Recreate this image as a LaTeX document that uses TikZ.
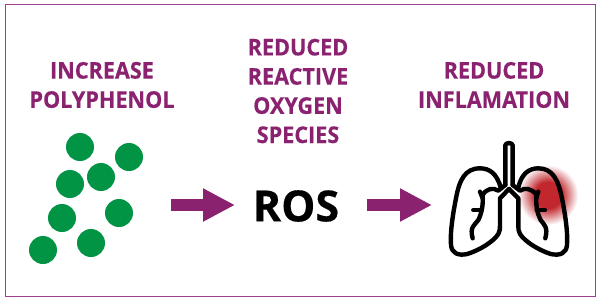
\documentclass[tikz,border=0pt]{standalone}
\usepackage{fontspec}
\setmainfont[BoldFeatures={FakeBold=0.35}]{Open Sans}
\newfontfamily\headfont[FakeStretch=0.94,BoldFeatures={FakeBold=0.35}]{Open Sans}
\usetikzlibrary{arrows.meta}
\definecolor{plum}{HTML}{8A2270}
\definecolor{framecol}{HTML}{9C3F8E}
\definecolor{leaf}{HTML}{009444}
\definecolor{flare}{HTML}{C1272D}
\pgfdeclareradialshading{flareglow}{\pgfpoint{0bp}{0bp}}{%
  color(0bp)=(flare); color(11bp)=(flare); color(25bp)=(white); color(50bp)=(white)}
\tikzset{
  heading/.style={text=plum,font=\headfont\bfseries\fontsize{23}{29.2}\selectfont,align=center,inner sep=0pt},
  dot/.style={circle,fill=leaf,minimum size=28pt,inner sep=0pt},
  flow/.style={draw=plum,line width=12.5pt,-{Triangle[length=32pt,width=31pt]},shorten >=0pt},
  lung/.style={draw=black,line width=4.4pt,line cap=round,line join=round}
}
\begin{document}
\begin{tikzpicture}[x=1pt,y=-1pt]
\useasboundingbox (0,0) rectangle (600,300);
\draw[framecol,line width=1pt] (5,4) rectangle (595,296);

% headings
\node[heading] (inc) at (102,85) {INCREASE\\POLYPHENOL};
\node[heading] (red) at (298,91) {REDUCED\\REACTIVE\\OXYGEN\\SPECIES};
\node[heading] (inf) at (494,85) {REDUCED\\INFLAMATION};
\node[inner sep=0pt,font=\bfseries\fontsize{43}{43}\selectfont] (ros) at (296,206) {ROS};

% polyphenol dots
\node[dot] (d1) at (80,147) {};
\node[dot] (d2) at (129,157) {};
\node[dot] (d3) at (70,184) {};
\node[dot] (d4) at (101,177) {};
\node[dot] (d5) at (62,218) {};
\node[dot] (d6) at (119,213) {};
\node[dot] (d7) at (91,243) {};
\node[dot] (d8) at (43,250) {};

% flow arrows
\coordinate (a1s) at (171,205);
\coordinate (a1e) at (235,205);
\coordinate (a2s) at (367,205);
\coordinate (a2e) at (432,205);
\draw[flow] (a1s) -- (a1e);
\draw[flow] (a2s) -- (a2e);

% inflamed area
\path[shading=flareglow] (548,195) circle (30);

% lungs, traced on a 3:1 grid
\begin{scope}[shift={(430,130)},x=0.3333pt,y=-0.3333pt]
\draw[lung] (226,165) -- (226,46) .. controls (226,37) and (248,37) .. (248,46) -- (248,165);
% left lobe
\draw[lung] (212,172) .. controls (200,130) and (178,115) .. (150,115)
  .. controls (105,115) and (88,150) .. (78,205)
  .. controls (68,255) and (60,310) .. (63,345)
  .. controls (65,370) and (85,378) .. (112,372)
  .. controls (150,360) and (190,335) .. (205,312)
  .. controls (210,305) and (210,295) .. (210,285) -- (210,205) -- (237,177);
% right lobe
\draw[lung] (265,172) .. controls (275,130) and (298,115) .. (325,115)
  .. controls (368,115) and (385,150) .. (396,205)
  .. controls (406,255) and (414,310) .. (411,345)
  .. controls (409,370) and (390,378) .. (362,372)
  .. controls (325,360) and (285,335) .. (270,312)
  .. controls (265,305) and (265,295) .. (265,285) -- (265,205) -- (237,177);
% bronchi
\draw[lung] (226,165) -- (205,182) .. controls (190,172) and (170,175) .. (158,195)
  .. controls (160,225) and (155,250) .. (145,270)
  .. controls (135,285) and (118,290) .. (128,325);
\draw[lung] (150,185) -- (158,205);
\draw[lung] (130,240) -- (155,240);
\draw[lung] (248,165) -- (270,182) .. controls (285,172) and (305,175) .. (320,195)
  .. controls (316,225) and (322,250) .. (332,270)
  .. controls (342,285) and (355,290) .. (346,325);
\draw[lung] (325,185) -- (318,205);
\draw[lung] (345,240) -- (320,240);
\end{scope}
\end{tikzpicture}
\end{document}
